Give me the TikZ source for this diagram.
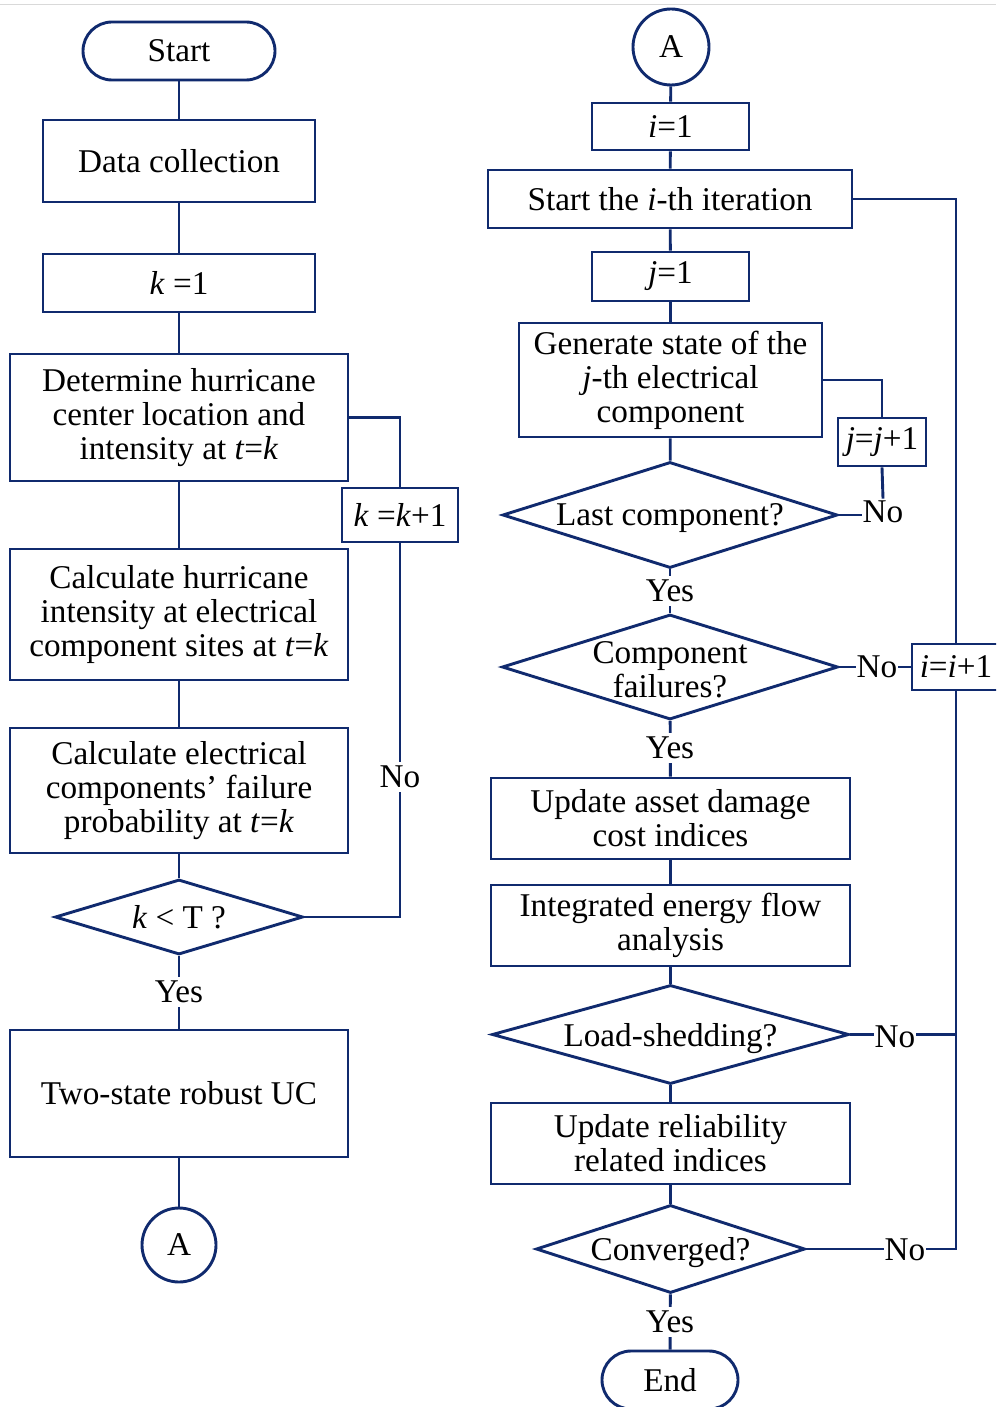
\documentclass[tikz,border=0pt]{standalone}
\usepackage{fontspec}
\setmainfont{Liberation Serif}
\usetikzlibrary{shapes.geometric}
\definecolor{navy}{RGB}{16,42,110}
\newcommand\mysize{\fontsize{16.6}{17}\selectfont}
\begin{document}
\begin{tikzpicture}[x=0.5pt,y=-0.5pt,
  every node/.style={font=\mysize, text=black},
  box/.style={draw=navy, line width=1.45pt, rectangle, align=center, inner sep=0pt},
  term/.style={draw=navy, line width=1.45pt, rectangle, rounded corners=14.5pt, inner sep=0pt, minimum width=#1, minimum height=29pt},
  circ/.style={draw=navy, line width=1.45pt, circle, inner sep=0pt, minimum size=#1},
  dia/.style={draw=navy, line width=1.45pt, diamond, inner sep=0pt},
  conn/.style={draw=navy, line width=1.45pt},
  lbl/.style={fill=white, inner xsep=0.5pt, inner ysep=2pt},
  nolbl/.style={inner xsep=0.3pt, inner ysep=1pt}
]
\useasboundingbox (0,0) rectangle (996,1407);
\clip (0,0) rectangle (996,1407);
\fill[white] (0,0) rectangle (996,1407);
\draw[black!15, line width=0.8pt] (0,4.5) -- (996,4.5);

% ---------- left column ----------
\node[term=96pt] (start) at (179,51) {Start};
\node[box, minimum width=136pt, minimum height=41pt] (data) at (179,161) {Data collection};
\node[box, minimum width=136pt, minimum height=29pt] (k1) at (179,283) {\textit{k} =1};
\node[box, minimum width=169pt, minimum height=63.5pt] (det) at (179,417.5) {Determine hurricane\\center location and\\intensity at \textit{t}=\textit{k}};
\node[box, minimum width=58pt, minimum height=27pt] (kk) at (400,515) {\textit{k} =\textit{k}+1};
\node[box, minimum width=169pt, minimum height=65.5pt] (calc1) at (179,614.5) {Calculate hurricane\\intensity at electrical\\component sites at \textit{t}=\textit{k}};
\node[box, minimum width=169pt, minimum height=62.5pt] (calc2) at (179,790.5) {Calculate electrical\\components’ failure\\probability at \textit{t}=\textit{k}};
\node[dia, minimum width=124pt, minimum height=37.5pt, label={center:\textit{k} < T ?}] (kT) at (179,917) {};
\node[box, minimum width=169pt, minimum height=63.5pt] (uc) at (179,1093.5) {Two-state robust UC};
\node[circ=37pt] (A1) at (179,1245) {A};

\draw[conn] (start) -- (data);
\draw[conn] (data) -- (k1);
\draw[conn] (k1) -- (det);
\draw[conn] (det) -- (calc1);
\draw[conn] (calc1) -- (calc2);
\draw[conn] (calc2) -- (kT);
\draw[conn] (kT) -- (uc);
\draw[conn] (uc) -- (A1);
\draw[conn] (det.east) -| (kk.north);
\draw[conn] (kT.east) -| (kk.south);
\node[lbl] (no0) at (400,777) {No};
\node[lbl] (yes0) at (179,992) {Yes};

% ---------- right column ----------
\node[circ=38pt] (A2) at (671,47) {A};
\node[box, minimum width=78.5pt, minimum height=23.5pt] (i1) at (670.5,126.5) {\textit{i}=1};
\node[box, minimum width=182pt, minimum height=29pt] (it) at (670,199) {Start the \textit{i}-th iteration};
\node[box, minimum width=78.5pt, minimum height=24.5pt] (j1) at (670.5,276.5) {\textit{j}=1};
\node[box, minimum width=151.5pt, minimum height=57pt] (gen) at (670.5,380) {Generate state of the\\\textit{j}-th electrical\\component};
\node[box, minimum width=44pt, minimum height=24pt] (jj) at (882,442) {\textit{j}=\textit{j}+1};
\node[dia, minimum width=167.5pt, minimum height=53pt, label={[yshift=-1.5pt]center:Last component?}] (lc) at (670,515) {};
\node[nolbl] (no1) at (883,512) {No};
\node[dia, minimum width=168pt, minimum height=52.5pt, label={[align=center, yshift=-1.5pt]center:Component\\failures?}] (cf) at (670,667) {};
\node[nolbl] (no2) at (877,667) {No};
\node[box, minimum width=44pt, minimum height=23pt] (ii) at (956,667) {\textit{i}=\textit{i}+1};
\node[box, minimum width=179.5pt, minimum height=40.5pt] (ua) at (670.5,818.5) {Update asset damage\\cost indices};
\node[box, minimum width=179.5pt, minimum height=40.5pt] (ie) at (670.5,925.5) {Integrated energy flow\\analysis};
\node[dia, minimum width=178.5pt, minimum height=49.5pt, label={[yshift=-2pt]center:Load-shedding?}] (ls) at (670.5,1034.5) {};
\node[nolbl] (no3) at (895,1037) {No};
\node[box, minimum width=179.5pt, minimum height=40.5pt] (ur) at (670.5,1143.5) {Update reliability\\related indices};
\node[dia, minimum width=134.5pt, minimum height=44pt, label={[yshift=-2pt]center:Converged?}] (cv) at (670.5,1249) {};
\node[nolbl] (no4) at (905,1250) {No};
\node[term=68pt] (end) at (670,1380) {End};

\draw[conn] (A2) -- (i1);
\draw[conn] (i1) -- (it);
\draw[conn] (it) -- (j1);
\draw[conn] (j1) -- (gen);
\draw[conn] (gen) -- (lc);
\draw[conn] (lc) -- (cf);
\draw[conn] (cf) -- (ua);
\draw[conn] (ua) -- (ie);
\draw[conn] (ie) -- (ls);
\draw[conn] (ls) -- (ur);
\draw[conn] (ur) -- (cv);
\draw[conn] (cv) -- (end);
\draw[conn] (gen.east) -| (jj.north);
\draw[conn] (jj.south) -- (no1.north);
\draw[conn] (lc.east) -- (lc.east -| no1.west);
\draw[conn] (cf.east) -- (no2.west);
\draw[conn] (no2.east) -- (ii.west);
\draw[conn] (it.east) -| (ii.north);
\draw[conn] (ls.east) -- (ls.east -| no3.west);
\draw[conn] (no3.east |- ls.east) -- (ls.east -| ii.south);
\draw[conn] (cv.east) -- (cv.east -| no4.west);
\draw[conn] (no4.east |- cv.east) -| (ii.south);
\node[lbl] (yes1) at (670,591) {Yes};
\node[lbl] (yes2) at (670,748) {Yes};
\node[lbl] (yes3) at (670,1322) {Yes};
\end{tikzpicture}
\end{document}
